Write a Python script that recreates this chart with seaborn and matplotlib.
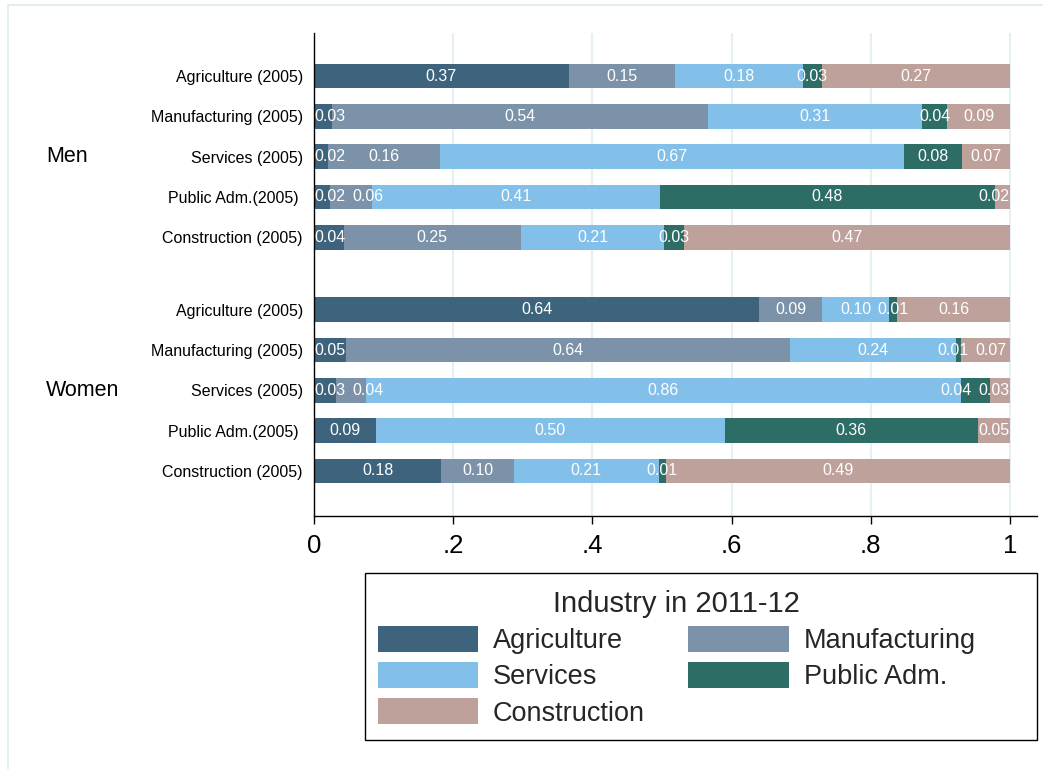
import numpy as np
import pandas as pd
import matplotlib
matplotlib.use("Agg")
import matplotlib.pyplot as plt
import matplotlib.transforms as mtransforms
from matplotlib.patches import Patch, Rectangle
from matplotlib.lines import Line2D
import seaborn as sns

# ---------------- data ----------------
groups = ["Men", "Women"]
origin_labels = ["Agriculture (2005)", "Manufacturing (2005)", "Services (2005)",
                 "Public Adm.(2005) ", "Construction (2005)"]
industries = ["Agriculture", "Manufacturing", "Services", "Public Adm.", "Construction"]
legend_title = "Industry in 2011-12"

# shares of each 2011-12 industry, rows: Men x 5 origins, then Women x 5 origins
agriculture   = [0.366, 0.026, 0.020, 0.023, 0.043, 0.640, 0.046, 0.031, 0.089, 0.183]
manufacturing = [0.153, 0.540, 0.161, 0.060, 0.254, 0.090, 0.638, 0.043, 0.000, 0.104]
services      = [0.183, 0.308, 0.667, 0.414, 0.206, 0.096, 0.238, 0.856, 0.501, 0.208]
public_adm    = [0.028, 0.036, 0.083, 0.481, 0.029, 0.012, 0.008, 0.041, 0.364, 0.011]
construction  = [0.270, 0.090, 0.069, 0.022, 0.468, 0.162, 0.070, 0.029, 0.046, 0.494]

xtick_values = [0, 0.2, 0.4, 0.6, 0.8, 1.0]
xtick_labels = ["0", ".2", ".4", ".6", ".8", "1"]

colors = ["#3E647D", "#7B92A8", "#82C0E9", "#2D6D66", "#BFA19C"]

# ---------------- table ----------------
series = [agriculture, manufacturing, services, public_adm, construction]
n_orig = len(origin_labels)
group_gap = 0.8
rows = []
for g_i, g in enumerate(groups):
    for o_i, lab in enumerate(origin_labels):
        rows.append(dict(group=g, label=lab, pos=g_i * (n_orig + group_gap) + o_i))
df = pd.DataFrame(rows)
for name, vals in zip(industries, series):
    df[name] = vals
cum = df[industries].cumsum(axis=1)
for name in industries:
    df["cum_" + name] = cum[name]

# ---------------- figure ----------------
W, H = 1051, 769
sns.set_style("white")
plt.rcParams["font.family"] = ["Liberation Sans", "DejaVu Sans"]

fig = plt.figure(figsize=(W / 100, H / 100), dpi=100)
ax = fig.add_axes([314 / W, 1 - 516 / H, (1037 - 314) / W, (516 - 33) / H])

# stacked bars: draw cumulative totals from the outermost segment inward
for name, col in reversed(list(zip(industries, colors))):
    sns.barplot(data=df, x="cum_" + name, y="pos", orient="y", native_scale=True,
                color=col, saturation=1, width=0.61, errorbar=None, linewidth=0,
                ax=ax, zorder=2)

# value labels (centered, nudged apart when crowded)
lab_w = 0.047
for _, r in df.iterrows():
    vals = [r[n] for n in industries]
    ends = [r["cum_" + n] for n in industries]
    xs, texts = [], []
    for v, e in zip(vals, ends):
        if v > 0:
            xs.append(e - v / 2)
            texts.append(f"{v:.2f}")
    xs = np.array(xs)
    sep = lab_w + 0.007
    for _ in range(60):
        xs = np.clip(xs, lab_w / 2, 1 - lab_w / 2)
        for i in range(len(xs) - 1):
            d = xs[i + 1] - xs[i]
            if d < sep:
                s = (sep - d) / 2
                xs[i] -= s
                xs[i + 1] += s
    xs = np.clip(xs, lab_w / 2 - 0.004, 1 - lab_w / 2 + 0.004)
    for x, t in zip(xs, texts):
        ax.text(x, r["pos"], t, ha="center", va="center", color="white",
                fontsize=11.5, zorder=5)

# axes styling
ax.set_xlim(0, (1037 - 314) / (1010 - 314))
last = df["pos"].max()
ax.set_ylim(last + 1.12, -1.07)
ax.set_xticks(xtick_values, labels=xtick_labels)
ax.set_yticks(df["pos"], labels=df["label"])
ax.set_xlabel("")
ax.set_ylabel("")
ax.tick_params(axis="x", length=6, width=1, pad=7, labelsize=18.5, colors="black",
               bottom=True)
ax.tick_params(axis="y", length=0, pad=8, labelsize=11.5, colors="black")
for s in ["top", "right"]:
    ax.spines[s].set_visible(False)
for s in ["left", "bottom"]:
    ax.spines[s].set_color("black")
    ax.spines[s].set_linewidth(1.0)
ax.set_axisbelow(True)
ax.xaxis.grid(True, color="#e6eff3", linewidth=1.5)
ax.yaxis.grid(False)

# group labels
blend = mtransforms.blended_transform_factory(fig.transFigure, ax.transData)
for g in groups:
    ymid = df.loc[df["group"] == g, "pos"].mean()
    ax.text(46 / W, ymid, g, transform=blend, ha="left", va="center", fontsize=15.5,
            color="black")

# legend
handles = [Patch(facecolor=c, edgecolor="none") for c in colors]
order = [0, 2, 4, 1, 3]
fig.legend([handles[i] for i in order], [industries[i] for i in order], ncol=2,
           loc="upper left", bbox_to_anchor=(378 / W, 1 - 590 / H), frameon=False,
           title=legend_title, fontsize=19.5, title_fontsize=21, handlelength=3.7,
           handleheight=1.08, handletextpad=0.55, columnspacing=1.6,
           labelspacing=0.3, borderpad=0, borderaxespad=0)
fig.add_artist(Rectangle((365 / W, 1 - 740 / H), (1037 - 365) / W, (740 - 573) / H,
                         transform=fig.transFigure, fill=False, edgecolor="black",
                         linewidth=1.0))

# faint outer frame
fig.add_artist(Line2D([8 / W, 8 / W], [0, 1 - 5 / H], transform=fig.transFigure,
                      color="#e4edf1", linewidth=1.5))
fig.add_artist(Line2D([8 / W, 1042 / W], [1 - 5 / H, 1 - 5 / H],
                      transform=fig.transFigure, color="#e4edf1", linewidth=1.5))

fig.savefig("out.png", dpi=100, facecolor="white")
